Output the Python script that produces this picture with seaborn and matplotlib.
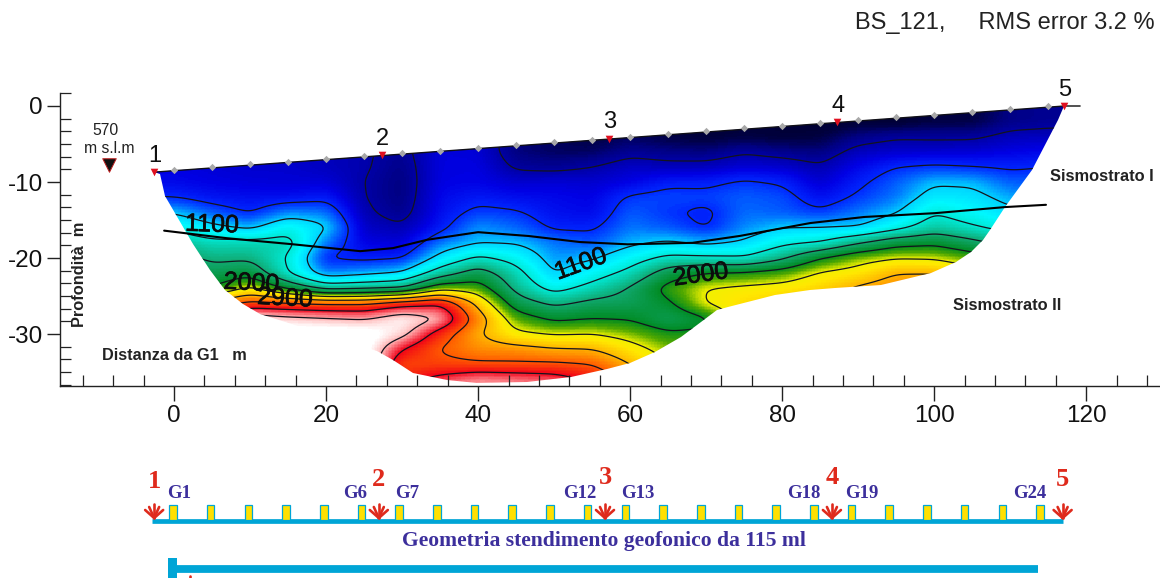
import numpy as np
import pandas as pd
import matplotlib
matplotlib.use("Agg")
import matplotlib.pyplot as plt
import matplotlib.patheffects as pe
from matplotlib.colors import LinearSegmentedColormap, Normalize
from matplotlib.path import Path
from matplotlib.patches import Rectangle
from matplotlib.ticker import MultipleLocator, FixedLocator, FixedFormatter
import seaborn as sns

# ---- data -----------------------------------------------------------------
depth_rows = [0, -2, -4, -6, -8, -10, -12, -14, -16, -18, -20, -22, -24, -26, -28, -30, -32, -34, -36, -38]
dist_cols = [-5, 0, 5, 10, 15, 20, 25, 30, 35, 40, 45, 50, 55, 60, 65, 70, 75, 80, 85, 90, 95, 100, 105, 110, 115, 120]

v_m05 = [650,650,650,650,650,680,790,1080,1350,1600,1800,2000,2300,2700,3100,3500,3800,3800,3800,3800]
v_000 = [650,650,650,650,650,680,790,1080,1350,1600,1800,2000,2300,2700,3100,3500,3800,3800,3800,3800]
v_005 = [620,620,620,620,620,650,720,900,1170,1480,1650,1800,2000,2700,3400,3800,3800,3800,3800,3800]
v_010 = [600,600,600,600,600,630,700,780,1050,1500,1660,1900,2350,3000,3700,3800,3800,3800,3800,3800]
v_015 = [600,600,600,600,600,620,700,980,1320,1500,1380,1400,1950,2950,3600,3800,3800,3800,3800,3800]
v_020 = [560,560,560,560,560,620,750,950,1130,950,780,950,1600,2900,3550,3800,3800,3800,3800,3800]
v_025 = [520,520,520,520,520,500,500,530,580,650,750,1030,1650,2900,3500,3800,3800,3800,3800,3800]
v_030 = [450,450,450,450,420,400,400,430,520,620,780,1120,1700,3100,3700,3600,3200,2950,3100,3200]
v_035 = [640,640,640,640,640,650,680,700,740,950,1180,1550,2200,3200,3520,3050,2880,2980,3300,3450]
v_040 = [620,620,620,620,650,660,740,850,1000,1080,1450,1850,2150,2530,2750,2620,2720,2950,3450,3500]
v_045 = [400,400,400,400,470,600,700,820,920,1080,1300,1500,1620,1850,2150,2350,2700,2950,3400,3500]
v_050 = [350,350,350,350,450,620,680,710,770,950,1000,1080,1300,1650,1950,2280,2620,2950,3350,3400]
v_055 = [300,300,300,350,500,600,650,680,770,880,1070,1270,1500,1780,2000,2300,2600,2900,3150,3200]
v_060 = [350,350,350,450,580,650,830,900,950,1050,1270,1480,1730,1800,1980,2200,2400,2600,2800,2900]
v_065 = [300,300,300,420,550,760,860,820,890,1130,1470,1850,2100,1950,1800,2050,2200,2300,2400,2500]
v_070 = [280,280,280,400,560,760,850,760,780,1050,1450,2020,2310,2320,1950,2050,2200,2300,2400,2500]
v_075 = [300,300,300,480,620,830,900,930,980,1130,1420,2050,2360,2450,2500,2500,2500,2500,2500,2500]
v_080 = [280,280,280,430,600,780,870,900,1090,1340,1650,2130,2400,2500,2550,2550,2550,2550,2550,2550]
v_085 = [250,250,300,400,520,600,700,830,1100,1410,2000,2330,2480,2550,2600,2600,2600,2600,2600,2600]
v_090 = [270,270,420,560,680,760,830,950,1100,1680,2200,2400,2650,2700,2700,2700,2700,2700,2700,2700]
v_095 = [250,250,480,590,800,900,950,1080,1310,1900,2290,2600,2750,2800,2800,2800,2800,2800,2800,2800]
v_100 = [300,300,470,600,830,1070,1200,1390,1550,1950,2270,2600,2800,2800,2800,2800,2800,2800,2800,2800]
v_105 = [300,300,470,610,800,1060,1170,1270,1430,1780,2150,2400,2700,2800,2800,2800,2800,2800,2800,2800]
v_110 = [420,420,550,650,770,900,1030,1150,1300,1600,1900,2200,2500,2700,2800,2800,2800,2800,2800,2800]
v_115 = [450,450,560,680,800,900,1000,1100,1250,1500,1800,2100,2400,2600,2700,2700,2700,2700,2700,2700]
v_120 = [450,450,560,680,800,900,1000,1100,1250,1500,1800,2100,2400,2600,2700,2700,2700,2700,2700,2700]

outline_x = [-2.6, -1.9, -1.2, 2.5, 4.7, 6.7, 9.1, 11.3, 26.7, 28.8, 31.5, 35.9, 39.9, 46.4, 52.2, 56.9, 60.0, 63.3,
             66.7, 71.4, 72.9, 79.0, 83.7, 87.0, 93.0, 99.6, 102.9, 104.9, 106.4, 107.4, 109.3, 112.8, 116.3, 117.1]
outline_z = [-8.7, -8.9, -11.8, -18.1, -21.6, -24.2, -26.0, -27.4, -32.3, -33.4, -35.1, -36.0, -36.5, -36.3, -35.6,
             -34.6, -33.8, -32.4, -30.4, -26.8, -26.4, -24.9, -24.2, -24.0, -23.6, -22.0, -20.5, -19.2, -17.6, -16.3,
             -13.3, -8.4, -1.8, 0.0]

interface_x = [-1.3, 7, 15.7, 24.5, 28.8, 33.3, 40, 46.6, 53.4, 59.7, 68.2, 74.4, 83.7, 90.8, 100.1, 109.3, 114.7]
interface_z = [-16.4, -17.4, -18.2, -19.1, -18.7, -17.6, -16.6, -17.1, -17.9, -18.2, -18.0, -17.1, -15.4, -14.6, -14.1, -13.3, -13.0]

shot_x = [-2.6, 27.3, 57.2, 87.2, 117.1]
shot_z = [-8.7, -6.5, -4.3, -2.1, 0.0]
shot_names = ["1", "2", "3", "4", "5"]
geophone_x = [0, 5, 10, 15, 20, 25, 30, 35, 40, 45, 50, 55, 60, 65, 70, 75, 80, 85, 90, 95, 100, 105, 110, 115]
geophone_names = {0: "G1", 5: "G6", 6: "G7", 11: "G12", 12: "G13", 17: "G18", 18: "G19", 23: "G24"}
iso_levels = [500, 800, 1100, 1400, 1700, 2000, 2300, 2600, 2900, 3200, 3500]
x_tick_vals = [0, 20, 40, 60, 80, 100, 120]
y_tick_vals = [0, -10, -20, -30]
y_tick_text = ["0", "-10", "-20", "-30"]

# ---- figure -----------------------------------------------------------------
W, H = 1160, 578
sns.set_theme(style="ticks")
plt.rcParams["font.family"] = ["Liberation Sans", "DejaVu Sans"]
fig = plt.figure(figsize=(W / 100, H / 100), dpi=100, facecolor="white")
pos = [60 / W, 1 - 386 / H, 1100 / W, 293 / H]
XLIM = (-15.0, 129.7)
YLIM = (-36.84, 1.71)

grid = np.array([v_m05, v_000, v_005, v_010, v_015, v_020, v_025, v_030, v_035, v_040, v_045, v_050, v_055,
                 v_060, v_065, v_070, v_075, v_080, v_085, v_090, v_095, v_100, v_105, v_110, v_115, v_120], float).T


def resample(values, xs, zs, xf, zf):
    zasc = np.array(zs)[::-1]
    tmp = np.array([np.interp(zf, zasc, values[::-1, i]) for i in range(values.shape[1])]).T
    return np.array([np.interp(xf, xs, tmp[j]) for j in range(tmp.shape[0])])


def blur(a, sx, sz):
    for axis, s in ((1, sx), (0, sz)):
        r = int(3 * s) + 1
        k = np.exp(-0.5 * (np.arange(-r, r + 1) / s) ** 2)
        k /= k.sum()
        pad = [(0, 0), (0, 0)]
        pad[axis] = (r, r)
        b = np.pad(a, pad, mode="edge")
        a = np.apply_along_axis(lambda m: np.convolve(m, k, mode="valid"), axis, b)
    return a


DX, DZ = 0.2, 0.2
xf = np.arange(-5, 120 + DX / 2, DX)
zf = np.arange(0, -38 - DZ / 2, -DZ)
vf = blur(resample(grid, dist_cols, depth_rows, xf, zf), 4.5, 2.5)

VMIN, VMAX = 200.0, 3800.0
def node(v, c):
    return ((v - VMIN) / (VMAX - VMIN), c)
cmap = LinearSegmentedColormap.from_list("seis", [
    node(200, "#000020"), node(300, "#000040"), node(400, "#000080"), node(500, "#0000a8"), node(650, "#0000e4"),
    node(800, "#0028ff"), node(950, "#0078ff"), node(1100, "#00d4ff"), node(1250, "#00f8ff"), node(1400, "#00e8d4"),
    node(1700, "#10a870"), node(2000, "#008a20"), node(2150, "#50a800"), node(2300, "#f0f000"), node(2400, "#ffe800"),
    node(2600, "#ffb400"), node(2900, "#ff5800"), node(3200, "#f00018"), node(3500, "#ffb0b0"), node(3700, "#ffffff"),
    node(3800, "#ffffff")])

surface_x = [-2.6, 117.1]
surface_z = [-8.7, 0.0]
outline = Path(np.column_stack([outline_x + [-2.6], outline_z + [-8.7]]), closed=True)

# heatmap layer, aligned to the metric axes
ax_h = fig.add_axes(pos, zorder=1)
frame = pd.DataFrame(vf, index=np.round(zf, 2), columns=np.round(xf, 2))
sns.heatmap(frame, ax=ax_h, cmap=cmap, norm=Normalize(VMIN, VMAX), cbar=False, xticklabels=False, yticklabels=False)
ax_h.set_xlim((XLIM[0] - xf[0]) / DX + 0.5, (XLIM[1] - xf[0]) / DX + 0.5)
ax_h.set_ylim((zf[0] - YLIM[0]) / DZ + 0.5, (zf[0] - YLIM[1]) / DZ + 0.5)
ax_h.axis("off")

ax = fig.add_axes(pos, zorder=2)
ax.patch.set_alpha(0)
ax.set_xlim(*XLIM)
ax.set_ylim(*YLIM)
ax_h.collections[0].set_clip_path(outline, ax.transData)

cs = ax.contour(xf, zf, vf, levels=iso_levels, colors="#14141e", linewidths=0.9)
cs.set_clip_path(outline, ax.transData)

sns.lineplot(x=surface_x, y=surface_z, ax=ax, color="#101018", lw=1.0, zorder=4, estimator=None, sort=False)
sns.lineplot(x=interface_x, y=interface_z, ax=ax, color="black", lw=1.5, zorder=5, estimator=None, sort=False)
ax.plot([117.1, 119.2], [0, 0], color="#333333", lw=1.2, zorder=4)
geo_z = np.interp(geophone_x, surface_x, surface_z)
ax.scatter(geophone_x, geo_z + 0.1, marker="D", s=14, color="#a8a8a8", linewidths=0, zorder=6)
ax.scatter(shot_x, shot_z, marker="v", s=30, color="#e01020", linewidths=0, zorder=7)
for sx_, sz_, nm in zip(shot_x, shot_z, shot_names):
    ax.text(sx_ + 0.1, sz_ + 0.7, nm, ha="center", va="bottom", fontsize=17, color="#101010", zorder=8)

sns.despine(ax=ax)
for side in ("left", "bottom"):
    ax.spines[side].set_linewidth(1.0)
    ax.spines[side].set_color("#222222")
ax.xaxis.set_major_locator(FixedLocator(x_tick_vals))
ax.xaxis.set_minor_locator(MultipleLocator(4))
ax.yaxis.set_major_locator(FixedLocator(y_tick_vals))
ax.yaxis.set_major_formatter(FixedFormatter(y_tick_text))
ax.yaxis.set_minor_locator(MultipleLocator(10 / 6))
ax.tick_params(which="major", direction="out", length=11, width=1.0, labelsize=17.5, color="#222222", labelcolor="#111111", pad=3)
ax.tick_params(axis="y", which="major", length=9.5, pad=3)
ax.tick_params(which="minor", direction="in", length=8, width=0.9, color="#222222")

# contour value labels
halo = [pe.withStroke(linewidth=0.5, foreground="#0c0c0c")]
for txt, lx, lz, rot in [("1100", 5.0, -15.6, -2), ("2000", 10.2, -23.3, -3), ("2900", 14.6, -25.3, -3),
                         ("1100", 53.5, -20.8, 20), ("2000", 69.3, -22.2, 8)]:
    ax.text(lx, lz, txt, fontsize=18, rotation=rot, ha="center", va="center", color="#0c0c0c", zorder=6,
            rotation_mode="anchor", path_effects=halo)

# annotations
ax.text(-9.0, -3.2, "570", fontsize=11.3, ha="center", va="center", color="#222222")
ax.text(-8.5, -5.6, "m s.l.m", fontsize=11.3, ha="center", va="center", color="#222222")
ax.scatter([-8.6], [-7.7], marker="v", s=95, color="#111111", edgecolors="#c02020", linewidths=0.7, zorder=5)
ax.text(-12.4, -22.2, "Profondità  m", rotation=90, fontsize=11.8, fontweight="bold", ha="center", va="center", color="#222222")
ax.text(-9.5, -32.8, "Distanza da G1   m", fontsize=11.7, fontweight="bold", ha="left", va="center", color="#222222")
ax.text(122.0, -9.3, "Sismostrato I", fontsize=11.8, fontweight="bold", ha="center", va="center", color="#222222")
ax.text(109.6, -26.2, "Sismostrato II", fontsize=11.8, fontweight="bold", ha="center", va="center", color="#222222")
fig.text(1155 / W, 1 - 23 / H, "BS_121,     RMS error 3.2 %", fontsize=17, ha="right", va="center", color="#222222")

# geometry sketch below the section (metres across, pixel rows down)
ax_g = fig.add_axes([0, 0, 1, 1], zorder=3)
ax_g.patch.set_alpha(0)
ax_g.axis("off")
scale = (1040 - 173) / 115.0
ax_g.set_xlim(-173 / scale, (W - 173) / scale)
ax_g.set_ylim(H, 0)
CY = "#00a5d6"
PUR = "#3c2f9c"
RED = "#df2a1c"
sx_geo = [-2.5, 27.3, 57.3, 87.4, 118.0]
ax_g.plot([sx_geo[0] - 0.3, sx_geo[-1] + 0.1], [521, 521], color=CY, lw=3.4, solid_capstyle="butt", zorder=1)
for i, gx in enumerate(geophone_x):
    ax_g.add_patch(Rectangle((gx - 0.5, 505), 1.0, 15, facecolor="#ffe000", edgecolor=CY, lw=0.9, zorder=2))
    if i in geophone_names:
        off = {0: 0.8, 5: -0.8, 6: 1.0, 11: -1.0, 12: 1.7, 17: -1.3, 18: 1.3, 23: -1.3}[i]
        ax_g.text(gx + off, 493, geophone_names[i], fontfamily="Liberation Serif", fontweight="bold", fontsize=13.5,
                  color=PUR, ha="center", va="center")


def shot_arrow(x0, y0):
    u = 1 / scale
    for dx, dy in [(0, -14), (-9, -8), (9, -8), (-5, -11), (5, -11)]:
        ax_g.plot([x0 + dx * u, x0], [y0 + dy, y0], color=RED, lw=1.9, solid_capstyle="round", zorder=3)


for sg, nm, ny in zip(sx_geo, shot_names, [481, 480, 478, 478, 480]):
    ax_g.text(sg, ny, nm, fontfamily="Liberation Serif", fontweight="bold", fontsize=19, color=RED, ha="center", va="center")
    shot_arrow(sg, 518)
ax_g.text(57.2, 541, "Geometria stendimento geofonico da 115 ml", fontfamily="Liberation Serif", fontweight="bold",
          fontsize=15.6, color=PUR, ha="center", va="center")
ax_g.plot([-0.2, 114.8], [569, 569], color=CY, lw=5.6, solid_capstyle="butt")
ax_g.add_patch(Rectangle((-0.7, 558), 1.2, 20, facecolor=CY, edgecolor="none"))
shot_arrow(2.2, 590)

fig.savefig("out.png", dpi=100, facecolor="white")
